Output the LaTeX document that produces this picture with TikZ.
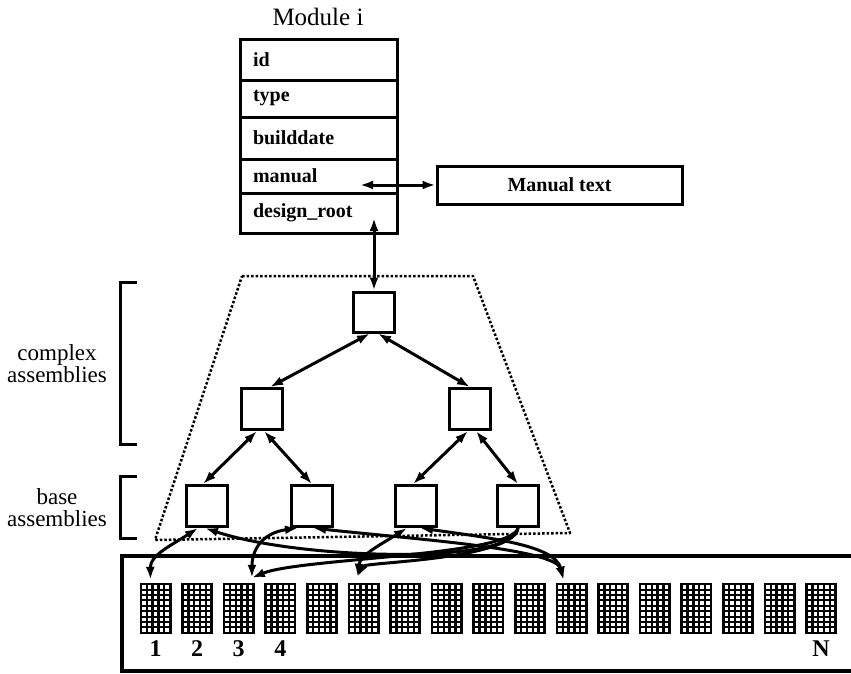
\documentclass[tikz,border=0pt]{standalone}
\usepackage{fontspec}
\setmainfont{Liberation Serif}
\usetikzlibrary{arrows.meta,positioning}

\tikzset{
  box/.style={shape=rectangle, draw, line width=3pt},
  modrow/.style={box, minimum width=157pt, text width=131pt, inner xsep=13pt, align=left, font=\fontsize{20}{22}\selectfont\bfseries},
  sq/.style={box, minimum width=41pt, minimum height=41pt},
  chip/.style={shape=rectangle, fill=black, minimum width=32pt, minimum height=51pt, inner sep=0pt,
    path picture={\foreach \i in {0,...,4} \foreach \j in {0,...,8}
      \fill[white] ([xshift=2.7pt+\i*5.8pt, yshift=-2.2pt-\j*5.4pt]path picture bounding box.north west) rectangle ++(3.4pt,-3.4pt);}},
  link/.style={line width=3pt, {Latex[length=13pt,width=9pt]}-{Latex[length=13pt,width=9pt]}},
  onelink/.style={line width=3pt, -{Latex[length=13pt,width=9pt]}},
  hull/.style={line width=2.5pt, dash pattern=on 2.5pt off 2pt, line join=round},
  brk/.style={line width=3pt},
  lbl/.style={align=center, font=\fontsize{23}{22}\selectfont},
  num/.style={font=\fontsize{24}{26}\selectfont\bfseries}
}

\begin{document}
\begin{tikzpicture}[x=1pt, y=-1pt]
  \useasboundingbox (0,0) rectangle (851,673);

  % module record
  \node[font=\fontsize{25}{28}\selectfont] (title) at (318,17) {Module i};
  \node[modrow, minimum height=41pt] (id) at (318.5,59.5) {id};
  \node[modrow, minimum height=37pt] (type) at (318.5,98.5) {type};
  \node[modrow, minimum height=42pt] (bdate) at (318.5,138) {builddate};
  \node[modrow, minimum height=34pt] (man) at (318.5,176) {manual};
  \node[modrow, minimum height=40pt] (droot) at (318.5,213) {design\_root};
  \node[box, minimum width=245pt, minimum height=38pt, font=\fontsize{20}{22}\selectfont\bfseries] (mtext) at (559.5,185) {Manual text};
  \coordinate (ma) at (360,185);
  \coordinate (dr) at (374,218);

  \draw[link] (ma) -- (mtext.west);

  % assembly tree
  \draw[hull] (242,276) -- (473,276) -- (570,533) -- (155,540) -- cycle;
  \node[sq, minimum height=40pt] (root) at (374,312) {};
  \node[sq] (c1) at (262,409) {};
  \node[sq] (c2) at (470,409) {};
  \node[sq] (b1) at (207,506) {};
  \node[sq] (b2) at (312,506) {};
  \node[sq] (b3) at (416,506) {};
  \node[sq] (b4) at (518,506) {};

  \draw[link] (dr) -- (root.north);
  \draw[link] ([xshift=-4pt]root.south) -- ([xshift=8pt]c1.north);
  \draw[link] ([xshift=4pt]root.south) -- (c2.north);
  \draw[link] ([xshift=-5pt]c1.south) -- ([xshift=-4pt]b1.north);
  \draw[link] ([xshift=2pt]c1.south) -- (b2.north);
  \draw[link] ([xshift=-2pt]c2.south) -- ([xshift=-3pt]b3.north);
  \draw[link] ([xshift=6pt]c2.south) -- (b4.north);

  % brackets and labels
  \draw[brk] (137,282) -- (120,282) -- (120,444) -- (137,444);
  \draw[brk] (137,476) -- (120,476) -- (120,538) -- (137,538);
  \node[lbl] (cplx) at (57,364) {complex\\assemblies};
  \node[lbl] (base) at (57,508) {base\\assemblies};

  % cell library
  \draw[line width=3.5pt] (851,556) -- (122,556) -- (122,671) -- (851,671);
  \foreach \n in {1,...,17}
    \node[chip] (k\n) at ({155.5+(\n-1)*41.6},608.5) {};
  \node[num, below=3pt of k1] (n1) {1};
  \node[num, below=3pt of k2] (n2) {2};
  \node[num, below=3pt of k3] (n3) {3};
  \node[num, below=3pt of k4] (n4) {4};
  \node[num, below=3pt of k17] (nN) {N};

  \coordinate (t1) at ([xshift=-5pt,yshift=3pt]k1.north);
  \coordinate (t3) at ([xshift=-3pt,yshift=5pt]k3.north east);
  \coordinate (t6) at ([xshift=-6pt,yshift=6pt]k6.north);
  \coordinate (t11) at ([xshift=-8pt,yshift=3pt]k11.north);

  \draw[link] ([xshift=-9pt]b1.south) .. controls (172,545) and (150,555) .. (t1);
  \draw[onelink] (b4.south) .. controls (515,565) and (300,560) .. ([xshift=-2pt]b1.south);
  \draw[link] ([xshift=-14pt]b2.south) .. controls (262,533) and (252,550) .. (t3);
  \draw[onelink] (b4.south) .. controls (512,556) and (300,558) .. (t3);
  \draw[link] ([xshift=1pt]b2.south) .. controls (400,538) and (555,548) .. (t11);
  \draw[link] ([xshift=-9pt]b3.south) .. controls (380,545) and (360,555) .. (t6);
  \draw[onelink] (b4.south) .. controls (512,560) and (365,562) .. (t6);
  \draw[link] ([xshift=4pt]b3.south) .. controls (490,538) and (555,545) .. (t11);
\end{tikzpicture}
\end{document}
